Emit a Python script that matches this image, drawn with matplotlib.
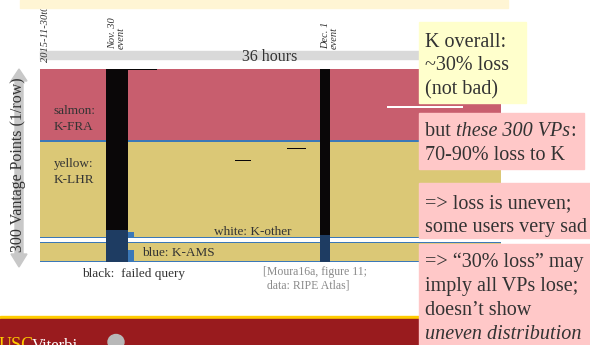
import matplotlib
matplotlib.use('Agg')
import matplotlib.pyplot as plt
import numpy as np
from matplotlib.colors import ListedColormap
from matplotlib.patches import Rectangle, Polygon, Ellipse

# ==============================
# DATA
# ==============================

# site codes used in the grid
FRA, LHR, OTHER, AMS, FAILED, AMS_FAIL = 0, 1, 2, 3, 4, 5
site_colors = ['#C85E6E', '#DBC876', '#FFFFFF', '#3B78B8', '#0A0708', '#1E3C62']

n_vps = 300
hours_total = 48
slots_per_hour = 6

# catchment of each block of VPs (rows), top to bottom
band_first_row = [0, 111, 113, 261, 263, 269, 271, 298]
band_last_row = [111, 113, 261, 263, 269, 271, 298, 300]
band_site = [FRA, AMS, LHR, AMS, OTHER, AMS, LHR, AMS]

# DDoS events (hours since 2015-11-30 00:00)
event_start_h = [6.8, 29.1]
event_end_h = [9.2, 30.1]
event_ams_row = [250, 258]   # rows below this go to AMS during the event

# a few visible streaks: first row, last row, start h, end h, site
streak_row0 = [0, 58, 123, 141, 253, 281]
streak_row1 = [2, 60, 125, 143, 261, 300]
streak_h0 = [9.2, 36.2, 25.6, 20.3, 9.2, 9.2]
streak_h1 = [12.2, 44.0, 27.7, 22.0, 9.9, 9.9]
streak_site = [FAILED, OTHER, FAILED, FAILED, AMS, AMS]

box1_lines = ['K overall:', '~30% loss', '(not bad)']
box2_parts = ['but ', 'these 300 VPs', ':']   # middle part in italics
box2_line2 = '70-90% loss to K'
box3_lines = ['=> loss is uneven;', 'some users very sad']
box4_lines = ['=> \u201c30% loss\u201d may', 'imply all VPs lose;', 'doesn\u2019t show']
box4_italic = 'uneven distribution'

# ==============================
# BUILD GRID
# ==============================

ncols = hours_total * slots_per_hour
t = (np.arange(ncols) + 0.5) / slots_per_hour
grid = np.zeros((n_vps, ncols), dtype=int)
for r0, r1, s in zip(band_first_row, band_last_row, band_site):
    grid[r0:r1, :] = s
for r0, r1, h0, h1, s in zip(streak_row0, streak_row1, streak_h0, streak_h1, streak_site):
    grid[r0:r1, (t >= h0) & (t < h1)] = s
for h0, h1, ar in zip(event_start_h, event_end_h, event_ams_row):
    cols = (t >= h0) & (t < h1)
    grid[:ar, cols] = FAILED
    grid[ar:, cols] = AMS_FAIL

# ==============================
# FIGURE
# ==============================

plt.rcParams['font.family'] = ['Liberation Serif', 'DejaVu Serif']

W, H = 590, 345
fig = plt.figure(figsize=(W / 100, H / 100), dpi=100)
fig.patch.set_facecolor('white')

ax = fig.add_axes([40 / W, 1 - 262 / H, 461 / W, 193 / H], zorder=1)
ax.imshow(grid, cmap=ListedColormap(site_colors), vmin=0, vmax=len(site_colors) - 1,
          aspect='auto', interpolation='nearest',
          extent=[0, hours_total, n_vps, 0])
ax.axis('off')

# overlay in pixel coordinates for the slide decorations
ov = fig.add_axes([0, 0, 1, 1], zorder=2)
ov.set_xlim(0, W)
ov.set_ylim(H, 0)
ov.axis('off')
ov.patch.set_alpha(0)

txt = '#333333'

# rotated labels on top
ov.text(45, 62, '2015-11-30t00:00', rotation=90, ha='center', va='bottom',
        fontsize=7.5, style='italic', color=txt, zorder=3)
ov.text(117, 49, 'Nov. 30\nevent', rotation=90, ha='center', va='bottom',
        multialignment='left', fontsize=7.5, style='italic', color=txt, linespacing=1.0)
ov.text(330, 49, 'Dec. 1\nevent', rotation=90, ha='center', va='bottom',
        multialignment='left', fontsize=7.5, style='italic', color=txt, linespacing=1.0)
ov.add_patch(Rectangle((20, 0), 488, 8, color='#FFF5D4', zorder=4))

# 36 hours bar
ov.add_patch(Rectangle((40, 51), 380, 8, color='#D9D9D9', zorder=2))
ov.text(297, 61, '36 hours', ha='right', va='baseline', fontsize=11.5, color=txt, zorder=3)

# vertical double arrow + label
ov.add_patch(Polygon([(19, 69), (27, 81), (23, 81), (23, 254), (27, 254), (19, 267),
                      (11, 254), (15, 254), (15, 81), (11, 81)],
                     closed=True, color='#C8C8C8', zorder=2))
ov.text(18, 165, '300 Vantage Points (1/row)', rotation=90, ha='center', va='center',
        fontsize=11.5, color=txt, zorder=3)

# labels inside heatmap
ov.text(54, 114, 'salmon:', fontsize=9.5, color=txt, va='baseline')
ov.text(54, 130, 'K-FRA', fontsize=9.5, color=txt, va='baseline')
ov.text(54, 167, 'yellow:', fontsize=9.5, color=txt, va='baseline')
ov.text(54, 183, 'K-LHR', fontsize=9.5, color=txt, va='baseline')
ov.text(214, 235, 'white: K-other', fontsize=9.5, color=txt, va='baseline')
ov.text(142, 256, 'blue: K-AMS', fontsize=9.5, color=txt, va='baseline')
ov.text(82, 277, 'black:  failed query', fontsize=9.5, color=txt, va='baseline')
ov.text(263, 275, '[Moura16a, figure 11;', fontsize=8.5, color='#8A8A8A', va='baseline')
ov.text(267, 288, 'data: RIPE Atlas]', fontsize=8.5, color='#8A8A8A', va='baseline')

# footer
ov.add_patch(Rectangle((0, 316), W, 3, color='#FFCC00', zorder=2))
ov.add_patch(Rectangle((0, 319), W, 26, color='#991B1E', zorder=2))
ov.text(-1, 350, 'USC', fontsize=13, color='#FFCC00', va='baseline', zorder=3)
ov.text(32, 350, 'Viterbi', fontsize=12, color='white', va='baseline', zorder=3)
ov.add_patch(Ellipse((116, 342), 16, 15, color='#B8B8B8', zorder=3))

# right text boxes
ov.add_patch(Rectangle((419, 22), 107, 81, color='#FFFFCC', zorder=5))
for i, s in enumerate(box1_lines):
    ov.text(425, 47 + i * 23.5, s, fontsize=14.5, color=txt, va='baseline', zorder=6)

ov.add_patch(Rectangle((419, 113), 165, 56, color='#FFC8C8', zorder=5))
renderer = fig.canvas.get_renderer()
x = 425
for j, s in enumerate(box2_parts):
    tt = ov.text(x, 136, s, fontsize=14.5, color=txt, va='baseline', zorder=6,
                 style='italic' if j == 1 else 'normal')
    x += tt.get_window_extent(renderer).width + (1 if j == 1 else 0)
ov.text(425, 160, box2_line2, fontsize=14.5, color=txt, va='baseline', zorder=6)

ov.add_patch(Rectangle((419, 183), 171, 55, color='#FFC8C8', zorder=5))
for i, s in enumerate(box3_lines):
    ov.text(425, 208 + i * 24, s, fontsize=14.5, color=txt, va='baseline', zorder=6)

ov.add_patch(Rectangle((419, 244), 171, 101, color='#FFC8C8', zorder=5))
for i, s in enumerate(box4_lines):
    ov.text(425, 267 + i * 24, s, fontsize=14.5, color=txt, va='baseline', zorder=6)
ov.text(425, 339, box4_italic, fontsize=14.5, style='italic', color=txt, va='baseline', zorder=6)

fig.savefig('out.png', dpi=100)
